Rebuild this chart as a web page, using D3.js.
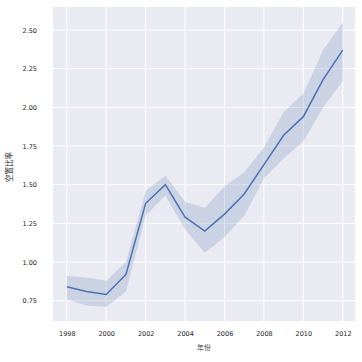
<!DOCTYPE html>
<html>
<head>
<meta charset="utf-8">
<script src="https://cdn.jsdelivr.net/npm/d3@7"></script>
<style>
	body { margin: 0; background: #fff; }
	svg { display: block; }
</style>
</head>
<body>
<div id="chart"></div>
<script>
const years = [1998, 1999, 2000, 2001, 2002, 2003, 2004, 2005, 2006, 2007, 2008, 2009, 2010, 2011, 2012];
const meanValues = [0.84, 0.81, 0.79, 0.92, 1.38, 1.50, 1.29, 1.20, 1.31, 1.44, 1.63, 1.82, 1.94, 2.18, 2.37];
const upperValues = [0.91, 0.90, 0.88, 1.00, 1.46, 1.56, 1.39, 1.35, 1.49, 1.58, 1.74, 1.97, 2.09, 2.37, 2.55];
const lowerValues = [0.76, 0.72, 0.71, 0.81, 1.30, 1.43, 1.21, 1.06, 1.16, 1.30, 1.54, 1.67, 1.78, 2.00, 2.17];
const xTicks = [1998, 2000, 2002, 2004, 2006, 2008, 2010, 2012];
const yTicks = [0.75, 1.00, 1.25, 1.50, 1.75, 2.00, 2.25, 2.50];
const xTitle = '年份';
const yTitle = '空置比率';

const width = 362;
const height = 362;
const margin = { top: 7, right: 7, bottom: 41, left: 53 };
const innerW = width - margin.left - margin.right;
const innerH = height - margin.top - margin.bottom;

const svg = d3.select('#chart').append('svg')
	.attr('width', width)
	.attr('height', height);

const plot = svg.append('g')
	.attr('transform', `translate(${margin.left},${margin.top})`);

const xScale = d3.scaleLinear().domain([1997.3, 2012.62]).range([0, innerW]);
const yScale = d3.scaleLinear().domain([0.619, 2.649]).range([innerH, 0]);

plot.append('rect')
	.attr('width', innerW)
	.attr('height', innerH)
	.attr('fill', '#eaeaf2');

// grid
plot.selectAll('.vgrid')
	.data(xTicks)
	.enter()
	.append('line')
	.attr('x1', (d) => xScale(d))
	.attr('x2', (d) => xScale(d))
	.attr('y1', 0)
	.attr('y2', innerH)
	.attr('stroke', '#fff')
	.attr('stroke-width', 1);

plot.selectAll('.hgrid')
	.data(yTicks)
	.enter()
	.append('line')
	.attr('x1', 0)
	.attr('x2', innerW)
	.attr('y1', (d) => yScale(d))
	.attr('y2', (d) => yScale(d))
	.attr('stroke', '#fff')
	.attr('stroke-width', 1);

const rows = years.map((y, i) => ({ year: y, mean: meanValues[i], lo: lowerValues[i], hi: upperValues[i] }));

const area = d3.area()
	.x((d) => xScale(d.year))
	.y0((d) => yScale(d.lo))
	.y1((d) => yScale(d.hi));

plot.append('path')
	.datum(rows)
	.attr('d', area)
	.attr('fill', '#4c72b0')
	.attr('fill-opacity', 0.2);

const line = d3.line()
	.x((d) => xScale(d.year))
	.y((d) => yScale(d.mean));

plot.append('path')
	.datum(rows)
	.attr('d', line)
	.attr('fill', 'none')
	.attr('stroke', '#4c72b0')
	.attr('stroke-width', 1.5);

// axes
const xAxis = d3.axisBottom(xScale).tickValues(xTicks).tickFormat(d3.format('d')).tickSize(0).tickPadding(10);
const yAxis = d3.axisLeft(yScale).tickValues(yTicks).tickFormat(d3.format('.2f')).tickSize(0).tickPadding(16);

const gx = plot.append('g')
	.attr('transform', `translate(0,${innerH})`)
	.call(xAxis);

const gy = plot.append('g')
	.call(yAxis);

[gx, gy].forEach((g) => {
	g.select('.domain').remove();
	g.selectAll('text')
		.attr('font-family', 'DejaVu Sans, sans-serif')
		.attr('font-size', 6.5)
		.attr('fill', '#262626');
});

svg.append('text')
	.attr('x', margin.left + innerW / 2)
	.attr('y', 350)
	.attr('text-anchor', 'middle')
	.attr('font-family', 'Noto Sans CJK SC, sans-serif')
	.attr('font-size', 7)
	.attr('fill', '#444')
	.text(xTitle);

svg.append('text')
	.attr('transform', `translate(12,${margin.top + innerH / 2 + 3}) rotate(-90)`)
	.attr('text-anchor', 'middle')
	.attr('font-family', 'Noto Sans CJK SC, sans-serif')
	.attr('font-size', 7.5)
	.attr('fill', '#262626')
	.text(yTitle);
</script>
</body>
</html>
